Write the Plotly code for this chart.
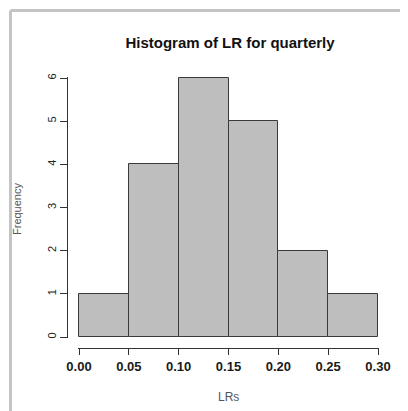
import plotly.graph_objects as go

# Data
bin_edges = [0.00, 0.05, 0.10, 0.15, 0.20, 0.25, 0.30]
frequencies = [1, 4, 6, 5, 2, 1]
x_tick_vals = [0.00, 0.05, 0.10, 0.15, 0.20, 0.25, 0.30]
x_tick_text = ["0.00", "0.05", "0.10", "0.15", "0.20", "0.25", "0.30"]
y_tick_vals = [0, 1, 2, 3, 4, 5, 6]
y_tick_text = ["0", "1", "2", "3", "4", "5", "6"]

OFF = 8  # page body margin
W, H = 408 - OFF, 411 - OFF
FONT = "Liberation Sans, Arial, sans-serif"

def px(x):
    return (x - OFF) / W

def py(y):
    return 1 - (y - OFF) / H

bin_widths = [bin_edges[i + 1] - bin_edges[i] for i in range(len(frequencies))]

fig = go.Figure()
fig.add_trace(go.Bar(
    x=bin_edges[:-1],
    y=frequencies,
    width=bin_widths,
    offset=0,
    marker=dict(color="#BEBEBE", line=dict(color="#3a3a3a", width=1)),
    hoverinfo="x+y",
    showlegend=False,
))

# pixel geometry (screen coordinates)
x0_px, x1_px = 79, 378
y0_px, y6_px = 337, 78
xs = (x1_px - x0_px) / 0.3
ys = (y0_px - y6_px) / 6.0
pad = 1

fig.update_layout(
    template="none",
    width=W, height=H,
    autosize=False,
    margin=dict(l=0, r=0, t=0, b=0, pad=0),
    paper_bgcolor="white",
    plot_bgcolor="white",
    bargap=0,
    showlegend=False,
    title=dict(
        text="Histogram of LR for quarterly",
        x=px(230), y=py(43), xanchor="center", yanchor="middle",
        xref="paper", yref="paper", automargin=False,
        font=dict(family=FONT, size=15, color="#111111", weight=700),
    ),
    xaxis=dict(
        domain=[px(x0_px - pad), px(x1_px + pad)],
        range=[-pad / xs, 0.3 + pad / xs],
        anchor="free", position=py(348),
        automargin=False,
        showgrid=False, zeroline=False,
        showline=True, linecolor="#333333", linewidth=1,
        ticks="outside", ticklen=6, tickcolor="#333333", tickwidth=1,
        tickvals=x_tick_vals, ticktext=x_tick_text,
        tickfont=dict(family=FONT, size=13, color="#1a1a1a", weight=700),
        fixedrange=True,
    ),
    yaxis=dict(
        domain=[py(y0_px + pad), py(y6_px - pad)],
        range=[-pad / ys, 6 + pad / ys],
        anchor="free", position=px(67),
        automargin=False,
        showgrid=False, zeroline=False,
        showline=True, linecolor="#333333", linewidth=1,
        ticks="outside", ticklen=7, tickcolor="#333333", tickwidth=1,
        tickvals=y_tick_vals, ticktext=y_tick_text,
        tickangle=-90,
        tickfont=dict(family=FONT, size=11, color="#222222"),
        fixedrange=True,
    ),
    annotations=[
        dict(text="Frequency", x=px(17), y=py(209), xref="paper", yref="paper",
             textangle=-90, showarrow=False, xanchor="center", yanchor="middle",
             font=dict(family=FONT, size=11, color="#555555")),
        dict(text="LRs", x=px(228), y=py(397), xref="paper", yref="paper",
             showarrow=False, xanchor="center", yanchor="middle",
             font=dict(family=FONT, size=12, color="#555555")),
    ],
    shapes=[
        dict(type="line", xref="paper", yref="paper",
             x0=px(10.5), x1=1.01, y0=py(10.5), y1=py(10.5),
             line=dict(color="#C4C4C4", width=3)),
        dict(type="line", xref="paper", yref="paper",
             x0=px(10.5), x1=px(10.5), y0=py(10.5), y1=-0.01,
             line=dict(color="#C4C4C4", width=3)),
    ],
)

fig.write_html("out.html")
